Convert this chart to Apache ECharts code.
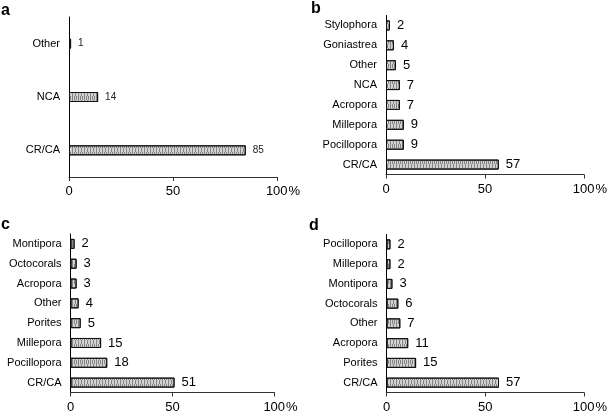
<!DOCTYPE html>
<html><head><meta charset="utf-8">
<script src="https://cdn.jsdelivr.net/npm/echarts@6/dist/echarts.min.js"></script>
<style>html,body{margin:0;padding:0;background:#fff}#c{width:610px;height:416px}</style>
</head><body><div id="c"></div>
<script>
var catsA = ['Other','NCA','CR/CA'];
var valsA = [1,14,85];
var catsB = ['Stylophora','Goniastrea','Other','NCA','Acropora','Millepora','Pocillopora','CR/CA'];
var valsB = [2,4,5,7,7,9,9,57];
var catsC = ['Montipora','Octocorals','Acropora','Other','Porites','Millepora','Pocillopora','CR/CA'];
var valsC = [2,3,3,4,5,15,18,51];
var catsD = ['Pocillopora','Millepora','Montipora','Octocorals','Other','Acropora','Porites','CR/CA'];
var valsD = [2,2,3,6,7,11,15,57];
var panelLetters = ['a','b','c','d'];
var xTicks = [0,50,100];

var FONT = '"Liberation Sans", Arial, sans-serif';
var chart = echarts.init(document.getElementById('c'), null, {renderer:'canvas'});

var grids = [
  {left:69, top:17, width:208, height:160},
  {left:386, top:15.5, width:198, height:159},
  {left:70.5, top:234, width:204, height:158.5},
  {left:386.5, top:234.5, width:199.5, height:158}
];
var cats = [catsA, catsB, catsC, catsD];
var vals = [valsA, valsB, valsC, valsD];
var catFont = [11, 11, 11, 11];
var valFont = [10, 13, 13, 13];

var xAxes = [], yAxes = [], series = [], titles = [];
var titlePos = [{left:1, top:3},{left:311, top:1},{left:1, top:217},{left:309, top:218}];
for (var i = 0; i < 4; i++) {
  xAxes.push({
    type:'value', gridIndex:i, min:xTicks[0], max:xTicks[2], interval:xTicks[1]-xTicks[0],
    splitLine:{show:false},
    axisLine:{show:true, lineStyle:{color:'#333', width:1}},
    axisTick:{show:true, length:4, lineStyle:{color:'#333'}},
    axisLabel:{
      color:'#000', fontFamily:FONT, fontSize:13, margin:8,
      formatter:function(v){ return v===100 ? '{pad|}100{pct|%}' : String(v); },
      rich:{pad:{width:12, fontSize:13, fontFamily:FONT}, pct:{fontSize:13, fontFamily:FONT, color:'#000', padding:[0,0,0,1]}}
    }
  });
  yAxes.push({
    type:'category', gridIndex:i, data:cats[i], inverse:true,
    axisLine:{show:true, lineStyle:{color:'#000', width:1}},
    axisTick:{show:false},
    axisLabel:{color:'#000', fontFamily:FONT, fontSize:catFont[i], margin:9}
  });
  series.push({
    type:'bar', xAxisIndex:i, yAxisIndex:i, data:vals[i], barWidth:10,
    itemStyle:{
      color:'#d2d2d2', borderColor:'#111', borderWidth:1,
      decal:{symbol:'rect', symbolSize:1, dashArrayX:[[1,2],[1,1]], dashArrayY:[4,0], rotation:0, color:'rgba(70,70,70,0.55)'}
    },
    label:{show:true, position:'right', distance:7, color:i===0?'#222':'#000', fontFamily:FONT, fontSize:valFont[i]},
    silent:true, animation:false
  });
  titles.push({text:panelLetters[i], left:titlePos[i].left, top:titlePos[i].top, padding:0,
    textStyle:{fontFamily:FONT, fontWeight:'bold', fontSize:16, color:'#000'}});
}

chart.setOption({
  animation:false,
  backgroundColor:'#fff',
  title:titles,
  grid:grids.map(function(g){ return Object.assign({containLabel:false}, g); }),
  xAxis:xAxes,
  yAxis:yAxes,
  series:series
});
</script></body></html>
